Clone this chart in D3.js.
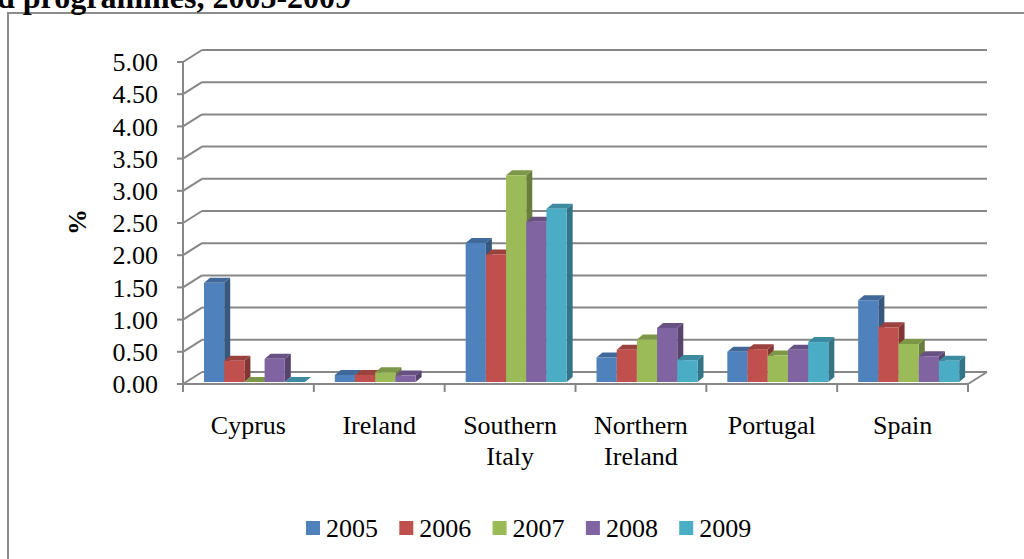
<!DOCTYPE html>
<html>
<head>
<meta charset="utf-8">
<script src="https://cdn.jsdelivr.net/npm/d3@7"></script>
<style>
  body { margin: 0; background: #fff; }
  svg { display: block; font-family: "Liberation Serif", "Times New Roman", serif; }
</style>
</head>
<body>
<svg id="chart" width="1024" height="559"></svg>
<script>
// Data
const regions = [['Cyprus'], ['Ireland'], ['Southern', 'Italy'], ['Northern', 'Ireland'], ['Portugal'], ['Spain']];
const years = ['2005', '2006', '2007', '2008', '2009'];
const colors = ['#4F81BD', '#C0504D', '#9BBB59', '#8064A2', '#4BACC6'];
const values = [
    [1.54, 0.33, 0.00, 0.36, 0.00],   // Cyprus
    [0.11, 0.11, 0.15, 0.10, null],   // Ireland
    [2.16, 1.98, 3.21, 2.49, 2.69],   // Southern Italy
    [0.38, 0.50, 0.66, 0.84, 0.34],   // Northern Ireland
    [0.47, 0.51, 0.41, 0.50, 0.62],   // Portugal
    [1.27, 0.85, 0.59, 0.40, 0.33]    // Spain
];
const yTicks = [0, 0.5, 1, 1.5, 2, 2.5, 3, 3.5, 4, 4.5, 5];

const fmt = d3.format('.2f');
const svg = d3.select('#chart');

// Geometry
const x0 = 183, x1 = 968;
const depth = {dx: 19, dy: -12};
const barDepth = {dx: 6, dy: -5};
const gridColor = '#878787';

const x = d3.scaleBand().domain(d3.range(regions.length)).range([x0, x1]);
const xi = d3.scaleBand().domain(d3.range(years.length)).range([21, 122]);
const y = d3.scaleLinear().domain([0, 5]).range([384, 62]);

// Frame + title (title is cropped in the source too)
svg.append('rect')
    .attr('x', 8).attr('y', 13).attr('width', 1030).attr('height', 560)
    .attr('fill', 'none').attr('stroke', '#8c8c8c').attr('stroke-width', 2);

svg.append('text')
    .attr('x', -3).attr('y', 8)
    .style('font-size', '32px').style('font-weight', 'bold')
    .text('d programmes, 2005-2009');

// Back wall gridlines and left wall diagonals
const grid = svg.append('g').attr('stroke', gridColor).attr('stroke-width', 2).attr('fill', 'none');
yTicks.forEach(v => {
    const yy = y(v);
    grid.append('line')
        .attr('x1', x0 + depth.dx).attr('y1', yy + depth.dy)
        .attr('x2', x1 + depth.dx).attr('y2', yy + depth.dy);
    grid.append('line')
        .attr('x1', x0).attr('y1', yy)
        .attr('x2', x0 + depth.dx).attr('y2', yy + depth.dy);
    grid.append('line')
        .attr('x1', x0 - 6).attr('y1', yy).attr('x2', x0).attr('y2', yy);
});
grid.append('line').attr('x1', x0).attr('y1', y(5)).attr('x2', x0).attr('y2', y(0));
// floor
grid.append('line').attr('x1', x0).attr('y1', y(0)).attr('x2', x1).attr('y2', y(0));
grid.append('line')
    .attr('x1', x1).attr('y1', y(0))
    .attr('x2', x1 + depth.dx).attr('y2', y(0) + depth.dy);
// category ticks
d3.range(regions.length + 1).forEach(i => {
    const xx = i < regions.length ? x(i) : x1;
    grid.append('line').attr('x1', xx).attr('y1', y(0)).attr('x2', xx).attr('y2', y(0) + 8);
});

// Y labels
svg.append('g').selectAll('text').data(yTicks).join('text')
    .attr('x', 158).attr('y', d => y(d))
    .attr('dy', '0.35em')
    .attr('text-anchor', 'end')
    .style('font-size', '26px')
    .text(d => fmt(d));

svg.append('text')
    .attr('transform', 'translate(86,222) rotate(-90)')
    .attr('text-anchor', 'middle')
    .style('font-size', '26px').style('font-weight', 'bold')
    .text('%');

// Bars (pseudo 3D)
const bars = svg.append('g');
values.forEach((row, ci) => {
    row.forEach((v, si) => {
        if (v === null) return;
        const c = d3.color(colors[si]);
        const bx = x(ci) + xi(si);
        const bw = xi.bandwidth();
        const base = y(0) - 2;
        const top = y(v) - 2;
        const {dx, dy} = barDepth;
        // side
        bars.append('path')
            .attr('d', `M${bx + bw},${base}L${bx + bw + dx},${base + dy}L${bx + bw + dx},${top + dy}L${bx + bw},${top}Z`)
            .attr('fill', c.darker(1.1));
        // top
        bars.append('path')
            .attr('d', `M${bx},${top}L${bx + dx},${top + dy}L${bx + bw + dx},${top + dy}L${bx + bw},${top}Z`)
            .attr('fill', c.darker(0.6));
        // front
        bars.append('rect')
            .attr('x', bx).attr('y', top)
            .attr('width', bw).attr('height', base - top)
            .attr('fill', c);
    });
});

// Category labels
const catG = svg.append('g');
regions.forEach((lines, i) => {
    const cx = x(i) + x.bandwidth() / 2;
    const t = catG.append('text')
        .attr('x', cx)
        .attr('y', 434)
        .attr('text-anchor', 'middle')
        .style('font-size', '26px');
    lines.forEach((ln, k) => {
        t.append('tspan').attr('x', cx).attr('dy', k === 0 ? 0 : 31).text(ln);
    });
});

// Legend
const legend = svg.append('g').selectAll('g').data(years).join('g')
    .attr('transform', (d, i) => `translate(${306 + i * 93.3},521)`);
legend.append('rect').attr('width', 14).attr('height', 14).attr('fill', (d, i) => colors[i]);
legend.append('text').attr('x', 20).attr('y', 16).style('font-size', '26px').text(d => d);
</script>
</body>
</html>
